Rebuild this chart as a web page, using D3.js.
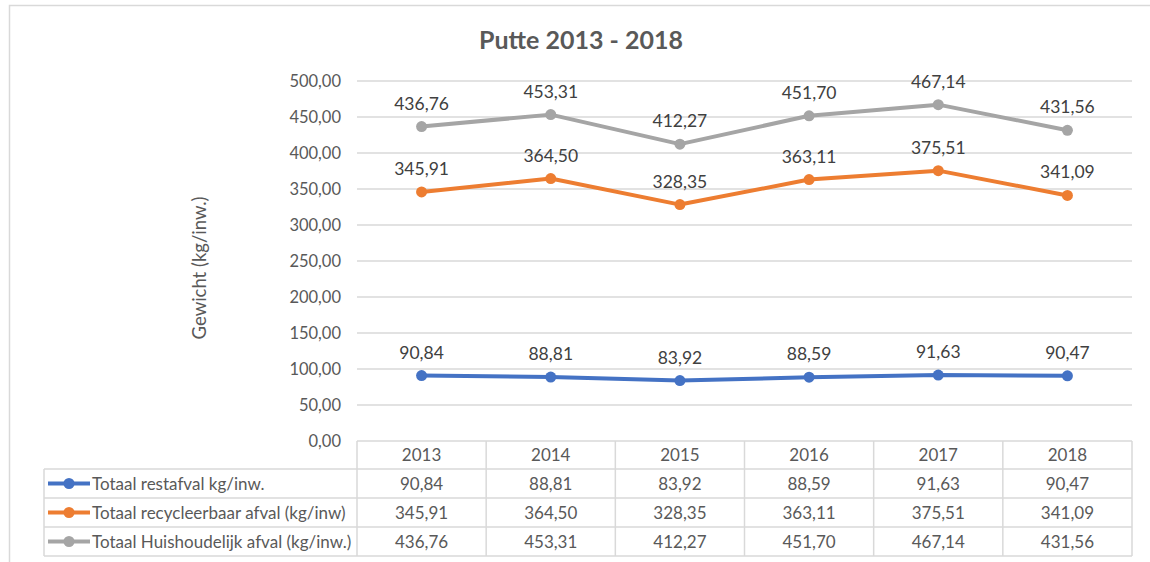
<!DOCTYPE html>
<html><head><meta charset="utf-8">
<script src="https://cdn.jsdelivr.net/npm/d3@7"></script>
<style>body{margin:0;background:#fff;}svg{display:block;font-family:Lato,"Open Sans",sans-serif;}</style>
</head><body>
<script>
const years = ["2013","2014","2015","2016","2017","2018"];
const restafval = [90.84, 88.81, 83.92, 88.59, 91.63, 90.47];
const recycleerbaar = [345.91, 364.50, 328.35, 363.11, 375.51, 341.09];
const huishoudelijk = [436.76, 453.31, 412.27, 451.70, 467.14, 431.56];
const seriesNames = ["Totaal restafval kg/inw.", "Totaal recycleerbaar afval (kg/inw)", "Totaal Huishoudelijk afval (kg/inw.)"];
const yTicks = [0, 50, 100, 150, 200, 250, 300, 350, 400, 450, 500];
const title = "Putte 2013 - 2018";
const yLabel = "Gewicht (kg/inw.)";

const series = [
  {name: seriesNames[0], values: restafval, color: "#4472C4"},
  {name: seriesNames[1], values: recycleerbaar, color: "#ED7D31"},
  {name: seriesNames[2], values: huishoudelijk, color: "#A5A5A5"}
];

const W = 1150, H = 562;
const svg = d3.select("body").append("svg").attr("width", W).attr("height", H);
const fmt = v => d3.format(".2f")(v).replace(".", ",");

// chart border
svg.append("rect").attr("x", 9.5).attr("y", 5.5).attr("width", 1160).attr("height", 600)
  .attr("fill", "none").attr("stroke", "#d9d9d9").attr("stroke-width", 1.5);

const x = d3.scaleBand().domain(years).range([357, 1132]);
const y = d3.scaleLinear().domain([0, 500]).range([441, 81]);

// gridlines
svg.append("g").selectAll("line").data(yTicks.filter(t => t > 0)).join("line")
  .attr("x1", 357).attr("x2", 1132).attr("y1", d => y(d)).attr("y2", d => y(d))
  .attr("stroke", "#d9d9d9").attr("stroke-width", 1.3);

// y axis labels
const yAxis = d3.axisLeft(y).tickValues(yTicks).tickFormat(fmt).tickSize(0).tickPadding(16);
const ga = svg.append("g").attr("transform", "translate(357,0)").call(yAxis);
ga.select(".domain").remove();
ga.selectAll("text").attr("font-size", 16.5).attr("fill", "#595959").attr("font-family", "Lato,'Open Sans',sans-serif");

// title
svg.append("text").attr("x", 581).attr("y", 49).attr("text-anchor", "middle")
  .attr("font-size", 25).attr("font-weight", "bold").attr("fill", "#595959").text(title);

// y label
svg.append("text").attr("transform", "translate(206,268) rotate(-90)").attr("text-anchor", "middle")
  .attr("font-size", 18.5).attr("fill", "#595959").text(yLabel);

// lines
const line = d3.line().x((d, i) => x(years[i]) + x.bandwidth() / 2).y(d => y(d));
series.forEach(s => {
  svg.append("path").attr("d", line(s.values)).attr("fill", "none")
    .attr("stroke", s.color).attr("stroke-width", 4).attr("stroke-linejoin", "round");
  svg.append("g").selectAll("circle").data(s.values).join("circle")
    .attr("cx", (d, i) => x(years[i]) + x.bandwidth() / 2).attr("cy", d => y(d)).attr("r", 5.5)
    .attr("fill", s.color);
  svg.append("g").selectAll("text").data(s.values).join("text")
    .attr("x", (d, i) => x(years[i]) + x.bandwidth() / 2).attr("y", d => y(d) - 17)
    .attr("text-anchor", "middle").attr("font-size", 17.5).attr("fill", "#404040").text(d => fmt(d));
});

// data table
const tbl = svg.append("g");
const rowY = [441, 469, 498, 527, 556];
const gridC = "#d9d9d9";
tbl.append("line").attr("x1", 357).attr("x2", 1132).attr("y1", rowY[0]).attr("y2", rowY[0]).attr("stroke", gridC).attr("stroke-width", 1.5);
for (let r = 1; r < rowY.length; r++) {
  tbl.append("line").attr("x1", 44).attr("x2", 1132).attr("y1", rowY[r]).attr("y2", rowY[r]).attr("stroke", gridC).attr("stroke-width", 1.5);
}
tbl.append("line").attr("x1", 44).attr("x2", 44).attr("y1", rowY[1]).attr("y2", rowY[4]).attr("stroke", gridC).attr("stroke-width", 1.5);
const colEdges = years.map(yr => x(yr)).concat([x.range()[1]]);
colEdges.forEach(cx => {
  tbl.append("line").attr("x1", cx).attr("x2", cx).attr("y1", rowY[0]).attr("y2", rowY[4]).attr("stroke", gridC).attr("stroke-width", 1.5);
});
tbl.selectAll("text.yr").data(years).join("text").attr("class", "yr")
  .attr("x", d => x(d) + x.bandwidth() / 2).attr("y", (rowY[0] + rowY[1]) / 2 + 6)
  .attr("text-anchor", "middle").attr("font-size", 17).attr("fill", "#595959").text(d => d);
series.forEach((s, r) => {
  const cy = (rowY[r + 1] + rowY[r + 2]) / 2;
  tbl.append("line").attr("x1", 48).attr("x2", 90).attr("y1", cy).attr("y2", cy)
    .attr("stroke", s.color).attr("stroke-width", 4);
  tbl.append("circle").attr("cx", 69).attr("cy", cy).attr("r", 5.5).attr("fill", s.color);
  tbl.append("text").attr("x", 92).attr("y", cy + 6).attr("font-size", 17).attr("fill", "#595959").text(s.name);
  tbl.append("g").selectAll("text").data(s.values).join("text")
    .attr("x", (d, i) => x(years[i]) + x.bandwidth() / 2).attr("y", cy + 6)
    .attr("text-anchor", "middle").attr("font-size", 17).attr("fill", "#595959").text(d => fmt(d));
});
</script>
</body></html>
